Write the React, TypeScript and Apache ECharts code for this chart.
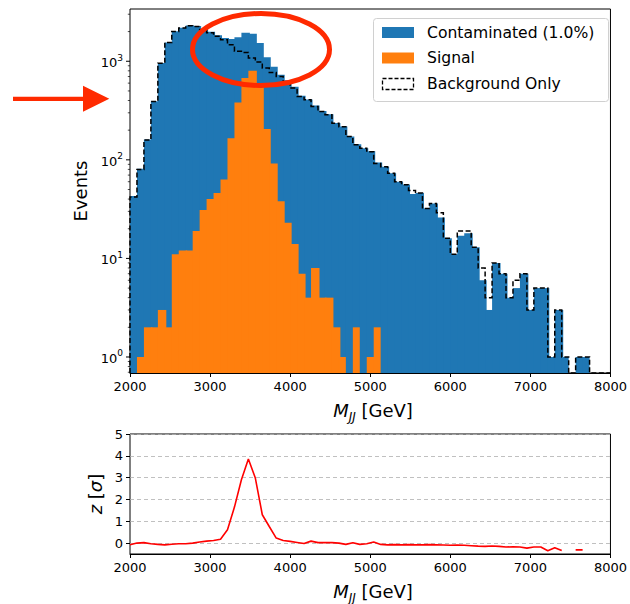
import React, { useEffect, useRef } from 'react';
import * as echarts from 'echarts';

const FONT = "'DejaVu Sans', sans-serif";
const X_MIN = 2000;
const X_MAX = 8000;
const N_BINS = 69;
const binEdges: number[] = Array.from({ length: N_BINS + 1 }, (_, k) => X_MIN + ((X_MAX - X_MIN) * k) / N_BINS);

const contaminated = [
  43, 81, 161, 392, 958, 1552, 2021, 2187, 2307, 2277, 2121, 1990, 1841, 1722, 1680,
  1750, 1950, 1900, 1531, 1100, 880, 730, 640, 550, 446, 410, 355, 313, 290, 237,
  218, 172, 144, 131, 122, 94, 85, 73, 60, 56, 45, 46, 32, 36, 26, 16, 11, 17, 18, 13,
  6, 3, 9, 7, 4, 5, 7, 3, 5, 5, 1, 3, 1, 0, 1, 1, 0, 0, 0,
];
const background = [
  42, 80, 159, 390, 955, 1550, 2010, 2175, 2295, 2258, 2090, 1950, 1795, 1655, 1472,
  1260, 1230, 1078, 982, 852, 769, 701, 620, 534, 439, 406, 347, 309, 286, 235,
  217, 172, 142, 131, 121, 92, 85, 73, 60, 56, 49, 46, 32, 36, 29, 16, 11, 19, 19, 13,
  8, 4, 9, 7, 4, 6, 7, 3, 5, 5, 1, 3, 1, 0, 1, 1, 0, 0, 0,
];
const signal = [
  0, 1, 2, 2, 3, 2, 11, 12, 12, 19, 31, 40, 46, 63, 166, 381, 675, 800, 555, 205,
  92, 38, 23, 14, 7, 4, 8, 4, 4, 2, 1, 0, 2, 0, 1, 2, 0, 0, 0, 0,
  0, 0, 0, 0, 0, 0, 0, 0, 0, 0, 0, 0, 0, 0, 0, 0, 0, 0, 0, 0,
  0, 0, 0, 0, 0, 0, 0, 0, 0,
];
const significance: (number | null)[] = [
  -0.08, 0.0, 0.02, -0.03, -0.06, -0.08, -0.05, -0.03, -0.03, 0.0,
  0.05, 0.09, 0.12, 0.18, 0.61, 1.65, 2.9, 3.85, 2.98, 1.3,
  0.76, 0.23, 0.12, 0.08, 0.03, -0.02, 0.09, 0.02, 0.02, 0.02,
  0.0, -0.06, 0.02, -0.06, -0.03, 0.05, -0.06, -0.08, -0.07, -0.08,
  -0.07, -0.08, -0.08, -0.07, -0.08, -0.09, -0.1, -0.09, -0.1, -0.12,
  -0.14, -0.15, -0.13, -0.15, -0.18, -0.17, -0.18, -0.23, -0.18, -0.18,
  -0.35, -0.21, -0.34, null, -0.31, -0.31, null, null, null,
];

const yMajorTicks = [1, 10, 100, 1000];
const yMinorTicks = [0.7, 0.8, 0.9, 2, 3, 4, 5, 6, 7, 8, 9, 20, 30, 40, 50, 60, 70, 80, 90,
  200, 300, 400, 500, 600, 700, 800, 900, 2000, 3000];
const zTicks = [0, 1, 2, 3, 4, 5];
const legendLabels = ['Contaminated (1.0%)', 'Signal', 'Background Only'];

const BLUE = '#1f77b4';
const ORANGE = '#ff7f0e';
const ANNOT = '#ff2a00';

function barSeries(name: string, vals: number[], color: string) {
  return {
    type: 'custom',
    name,
    xAxisIndex: 0,
    yAxisIndex: 0,
    encode: { x: [0, 1], y: 2 },
    data: vals.map((v, k) => [binEdges[k], binEdges[k + 1], v]),
    renderItem: (params: any, api: any) => {
      const v = api.value(2);
      if (!(v > 0)) return null;
      const a = api.coord([api.value(0), v]);
      const b = api.coord([api.value(1), v]);
      const cs = params.coordSys;
      const bottom = cs.y + cs.height;
      const next = params.dataIndex + 1 < vals.length ? vals[params.dataIndex + 1] : 0;
      const extra = next > 0 ? 1.5 : 0;
      return {
        type: 'rect',
        shape: { x: a[0], y: a[1], width: b[0] - a[0] + extra, height: bottom - a[1] },
        style: { fill: color },
      };
    },
  };
}

const axisLabelBase = { fontFamily: FONT, fontSize: 13, color: '#000' };

const option: any = {
  animation: false,
  backgroundColor: '#ffffff',
  grid: [
    { left: 130, top: 9, width: 486, height: 364, show: true, borderColor: '#000', borderWidth: 1, backgroundColor: 'transparent' },
    { left: 130, top: 434, width: 486, height: 120, show: true, borderColor: '#000', borderWidth: 1, backgroundColor: 'transparent' },
  ],
  xAxis: [0, 1].map((g) => ({
    gridIndex: g,
    type: 'value',
    min: X_MIN,
    max: X_MAX,
    interval: 1000,
    axisLine: { show: true, onZero: false, lineStyle: { color: '#000', width: 1 } },
    axisTick: { show: true, inside: false, length: 4, lineStyle: { color: '#000', width: 1 } },
    axisLabel: { ...axisLabelBase, margin: 7, formatter: (v: number) => String(v) },
    splitLine: { show: false },
  })),
  yAxis: [
    {
      gridIndex: 0,
      type: 'log',
      logBase: 10,
      min: 0.688,
      max: 3390,
      axisLine: { show: false },
      axisTick: { show: false },
      splitLine: { show: false },
      axisLabel: {
        margin: 7,
        showMinLabel: false,
        showMaxLabel: false,
        formatter: (v: number) => `{b|10}{s|${Math.round(Math.log10(v))}}`,
        rich: {
          b: { fontFamily: FONT, fontSize: 13, color: '#000', verticalAlign: 'top', padding: [3, 0, 0, 0] },
          s: { fontFamily: FONT, fontSize: 9, color: '#000', verticalAlign: 'top' },
        },
      },
    },
    {
      gridIndex: 1,
      type: 'value',
      min: -0.5,
      max: 5,
      axisLine: { show: false, onZero: false },
      axisTick: { show: true, inside: false, length: 4, customValues: zTicks, lineStyle: { color: '#000', width: 1 } },
      axisLabel: { ...axisLabelBase, margin: 7, customValues: zTicks },
      splitLine: { show: true, lineStyle: { color: '#b0b0b0', width: 0.8, type: [4, 3] } },
    },
  ],
  series: [
    barSeries('Contaminated (1.0%)', contaminated, BLUE),
    barSeries('Signal', signal, ORANGE),
    {
      type: 'custom',
      name: 'Background Only',
      xAxisIndex: 0,
      yAxisIndex: 0,
      data: [[X_MIN, 1]],
      renderItem: (params: any, api: any) => {
        const cs = params.coordSys;
        const bottom = cs.y + cs.height;
        const pts: number[][] = [];
        pts.push([api.coord([binEdges[0], 1])[0], bottom]);
        background.forEach((v, k) => {
          const xa = api.coord([binEdges[k], 1])[0];
          const xb = api.coord([binEdges[k + 1], 1])[0];
          const y = v > 0 ? api.coord([binEdges[k], v])[1] : bottom;
          pts.push([xa, y], [xb, y]);
        });
        pts.push([api.coord([binEdges[N_BINS], 1])[0], bottom]);
        return {
          type: 'polyline',
          shape: { points: pts },
          style: { fill: 'none', stroke: '#000', lineWidth: 1.5, lineDash: [5, 2.5] },
        };
      },
    },
    {
      type: 'custom',
      name: 'yticks',
      xAxisIndex: 0,
      yAxisIndex: 0,
      clip: false,
      silent: true,
      encode: { x: 0, y: 1 },
      data: [
        ...yMajorTicks.map((v) => [X_MIN, v, 1]),
        ...yMinorTicks.map((v) => [X_MIN, v, 0]),
      ],
      renderItem: (params: any, api: any) => {
        const p = api.coord([api.value(0), api.value(1)]);
        const major = api.value(2) === 1;
        const len = major ? 4 : 2.2;
        return {
          type: 'line',
          shape: { x1: p[0] - len, y1: p[1], x2: p[0], y2: p[1] },
          style: { stroke: '#000', lineWidth: major ? 1 : 0.7 },
        };
      },
    },
    {
      type: 'line',
      name: 'z',
      xAxisIndex: 1,
      yAxisIndex: 1,
      showSymbol: false,
      symbol: 'none',
      connectNulls: false,
      lineStyle: { color: '#ff0000', width: 1.6 },
      itemStyle: { color: '#ff0000' },
      data: significance.map((z, k) => [binEdges[k], z]),
    },
  ],
  graphic: [
    {
      type: 'text', x: 80, y: 191, rotation: Math.PI / 2, z: 50,
      style: { text: 'Events', fontFamily: FONT, fontSize: 18, fill: '#000', align: 'center', verticalAlign: 'middle', textAlign: 'center', textVerticalAlign: 'middle' },
    },
    {
      type: 'text', x: 95, y: 494, rotation: Math.PI / 2, z: 50,
      style: {
        text: '{i|z}{n| [}{i|σ}{n|]}',
        rich: {
          i: { fontFamily: FONT, fontSize: 18, fontStyle: 'italic', fill: '#000' },
          n: { fontFamily: FONT, fontSize: 18, fill: '#000' },
        },
        align: 'center', verticalAlign: 'middle', textAlign: 'center', textVerticalAlign: 'middle',
      },
    },
    ...[412, 593].map((y) => ({
      type: 'text', x: 373, y, z: 50,
      style: {
        text: '{i|M}{sub|JJ}{n| [GeV]}',
        rich: {
          i: { fontFamily: FONT, fontSize: 18, fontStyle: 'italic', fill: '#000', verticalAlign: 'top' },
          sub: { fontFamily: FONT, fontSize: 12, fontStyle: 'italic', fill: '#000', verticalAlign: 'top', padding: [9, 0, 0, 0] },
          n: { fontFamily: FONT, fontSize: 18, fill: '#000', verticalAlign: 'top' },
        },
        align: 'center', verticalAlign: 'middle', textAlign: 'center', textVerticalAlign: 'middle',
      },
    })),
    {
      type: 'group', z: 60,
      children: [
        { type: 'rect', shape: { x: 373.5, y: 18.5, width: 235, height: 83, r: 3 }, style: { fill: 'rgba(255,255,255,0.8)', stroke: '#d0d0d0', lineWidth: 1 } },
        { type: 'rect', shape: { x: 382, y: 27, width: 32, height: 11 }, style: { fill: BLUE } },
        { type: 'rect', shape: { x: 382, y: 52.5, width: 32, height: 11 }, style: { fill: ORANGE } },
        { type: 'rect', shape: { x: 382.5, y: 78.5, width: 31, height: 11 }, style: { fill: 'none', stroke: '#000', lineWidth: 1.3, lineDash: [4, 2] } },
        ...legendLabels.map((t, i) => ({
          type: 'text', x: 427, y: 32.5 + i * 25.8,
          style: { text: t, fontFamily: FONT, fontSize: 15.6, fill: '#000', align: 'left', verticalAlign: 'middle', textAlign: 'left', textVerticalAlign: 'middle' },
        })),
      ],
    },
    {
      type: 'ellipse', z: 70,
      shape: { cx: 261, cy: 49.5, rx: 68.5, ry: 36 },
      style: { fill: 'none', stroke: ANNOT, lineWidth: 5 },
    },
    {
      type: 'polygon', z: 70,
      shape: { points: [[13, 96.7], [83, 96.7], [83, 85.7], [109.3, 98.7], [83, 111.7], [83, 101], [13, 101]] },
      style: { fill: ANNOT },
    },
  ],
};

export default function App() {
  const ref = useRef<HTMLDivElement>(null);
  useEffect(() => {
    const chart = echarts.init(ref.current!, null, { renderer: 'svg' });
    chart.setOption(option);
    return () => chart.dispose();
  }, []);
  return <div ref={ref} style={{ position: 'absolute', left: 0, top: 0, width: 630, height: 604 }} />;
}
